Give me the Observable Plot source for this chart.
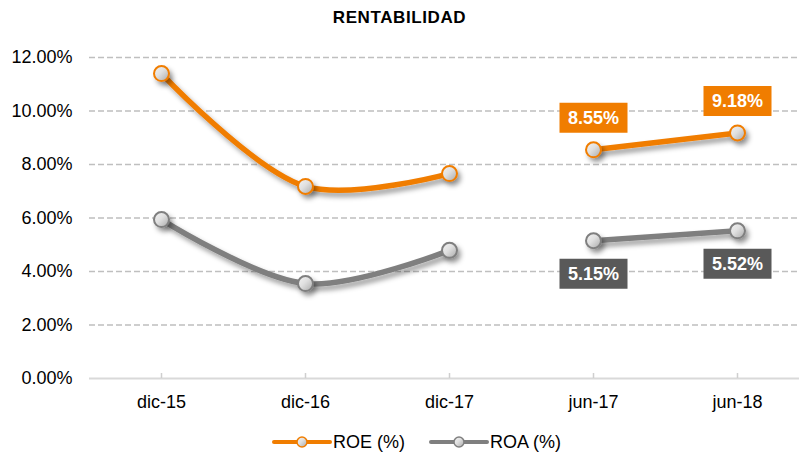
<!DOCTYPE html>
<html>
<head>
<meta charset="utf-8">
<script src="https://cdn.jsdelivr.net/npm/d3@7"></script>
<script src="https://cdn.jsdelivr.net/npm/@observablehq/plot@0.6"></script>
<style>
  body { margin: 0; background: #fff; font-family: "Liberation Sans", Arial, sans-serif; }
  #title { height: 36px; line-height: 36px; text-align: center; font-weight: bold; font-size: 17px; letter-spacing: 0.6px; color: #000; }
  #legend { height: 32px; display: flex; align-items: center; padding-left: 272px; font-size: 18px; color: #000; }
  #legend .item { display: flex; align-items: center; margin-right: 24px; }
  #legend svg { margin-right: 1px; }
</style>
</head>
<body>
<div id="title">RENTABILIDAD</div>
<div id="chart"></div>
<div id="legend"></div>
<script>
const categories = ["dic-15", "dic-16", "dic-17", "jun-17", "jun-18"];
const roe = [11.40, 7.18, 7.66, 8.55, 9.18];
const roa = [5.94, 3.55, 4.79, 5.15, 5.52];
const segments = ["a", "a", "a", "b", "b"];
const labelled = [false, false, false, true, true];
const yTicks = [0, 2, 4, 6, 8, 10, 12];
const seriesNames = ["ROE (%)", "ROA (%)"];
const seriesColors = ["#F07D00", "#7F7F7F"];
const labelColors = ["#F07D00", "#595959"];

const rows = [];
categories.forEach((c, i) => {
  rows.push({cat: c, value: roe[i], series: seriesNames[0], seg: seriesNames[0] + segments[i], label: labelled[i]});
  rows.push({cat: c, value: roa[i], series: seriesNames[1], seg: seriesNames[1] + segments[i], label: labelled[i]});
});
const roeRows = rows.filter(d => d.series === seriesNames[0]);
const roaRows = rows.filter(d => d.series === seriesNames[1]);

const boxSymbol = {draw(ctx) { ctx.rect(-34, -15, 68, 30); }};
const fmt = v => v.toFixed(2) + "%";

const plot = Plot.plot({
  width: 799,
  height: 390,
  marginLeft: 89,
  marginRight: 0,
  marginTop: 21,
  marginBottom: 48,
  style: {fontFamily: "Liberation Sans, Arial, sans-serif", fontSize: "18px", color: "#000", background: "#fff"},
  x: {type: "point", domain: categories, range: [161, 737], padding: 0, label: null},
  y: {domain: [0, 12], label: null},
  marks: [
    Plot.gridY(yTicks.filter(t => t > 0), {stroke: "#bfbfbf", strokeOpacity: 1, strokeWidth: 1.5, strokeDasharray: "6,3"}),
    Plot.ruleY([0], {stroke: "#d9d9d9", strokeWidth: 2}),
    Plot.axisY({ticks: yTicks, tickFormat: fmt, tickSize: 0, tickPadding: 17, fontSize: 18, fill: "#000"}),
    Plot.axisX({tickSize: -5, stroke: "#cfcfcf", strokeOpacity: 1, strokeWidth: 1.5, tickFormat: () => ""}),
    Plot.axisX({tickSize: 0, tickPadding: 17, fontSize: 18, fill: "#000"}),
    Plot.line(roeRows, {x: "cat", y: "value", z: "seg", stroke: seriesColors[0], strokeWidth: 5.5, curve: "catmull-rom"}),
    Plot.line(roaRows, {x: "cat", y: "value", z: "seg", stroke: seriesColors[1], strokeWidth: 5.5, curve: "catmull-rom"}),
    Plot.dot(roeRows, {x: "cat", y: "value", r: 7.5, fill: "url(#markgrad)", stroke: seriesColors[0], strokeWidth: 2}),
    Plot.dot(roaRows, {x: "cat", y: "value", r: 7.5, fill: "url(#markgrad)", stroke: seriesColors[1], strokeWidth: 2}),
    Plot.dot(roeRows.filter(d => d.label), {x: "cat", y: "value", symbol: boxSymbol, r: 10, fill: labelColors[0], dy: -32}),
    Plot.text(roeRows.filter(d => d.label), {x: "cat", y: "value", text: d => fmt(d.value), fill: "#fff", fontWeight: "bold", fontSize: 18, dy: -32}),
    Plot.dot(roaRows.filter(d => d.label), {x: "cat", y: "value", symbol: boxSymbol, r: 10, fill: labelColors[1], dy: 33}),
    Plot.text(roaRows.filter(d => d.label), {x: "cat", y: "value", text: d => fmt(d.value), fill: "#fff", fontWeight: "bold", fontSize: 18, dy: 33})
  ]
});

const svg = d3.select(plot);
const defs = svg.insert("defs", ":first-child");
const g = defs.append("linearGradient").attr("id", "markgrad").attr("x1", "0").attr("y1", "0").attr("x2", "1").attr("y2", "1");
g.append("stop").attr("offset", "0%").attr("stop-color", "#f4f4f4");
g.append("stop").attr("offset", "45%").attr("stop-color", "#e0e0e0");
g.append("stop").attr("offset", "100%").attr("stop-color", "#a8a8a8");
const f = defs.append("filter").attr("id", "shadow").attr("filterUnits", "userSpaceOnUse")
  .attr("x", 0).attr("y", 0).attr("width", 799).attr("height", 390);
f.append("feDropShadow").attr("dx", 3).attr("dy", 4).attr("stdDeviation", 2.5).attr("flood-color", "#000").attr("flood-opacity", 0.38);
svg.selectAll('g[aria-label="line"]').attr("filter", "url(#shadow)");
svg.selectAll('g[aria-label="dot"]').filter(function() { return this.querySelector("circle") !== null; }).attr("filter", "url(#shadow)");
document.getElementById("chart").appendChild(plot);

const legend = d3.select("#legend");
seriesNames.forEach((name, i) => {
  const item = legend.append("div").attr("class", "item");
  const s = item.append("svg").attr("width", 60).attr("height", 16);
  s.append("line").attr("x1", 2).attr("x2", 58).attr("y1", 8).attr("y2", 8).attr("stroke", seriesColors[i]).attr("stroke-width", 4).attr("stroke-linecap", "round");
  s.append("circle").attr("cx", 30).attr("cy", 8).attr("r", 5).attr("fill", "url(#markgrad)").attr("stroke", seriesColors[i]).attr("stroke-width", 1.5);
  item.append("span").text(name);
});
</script>
</body>
</html>
